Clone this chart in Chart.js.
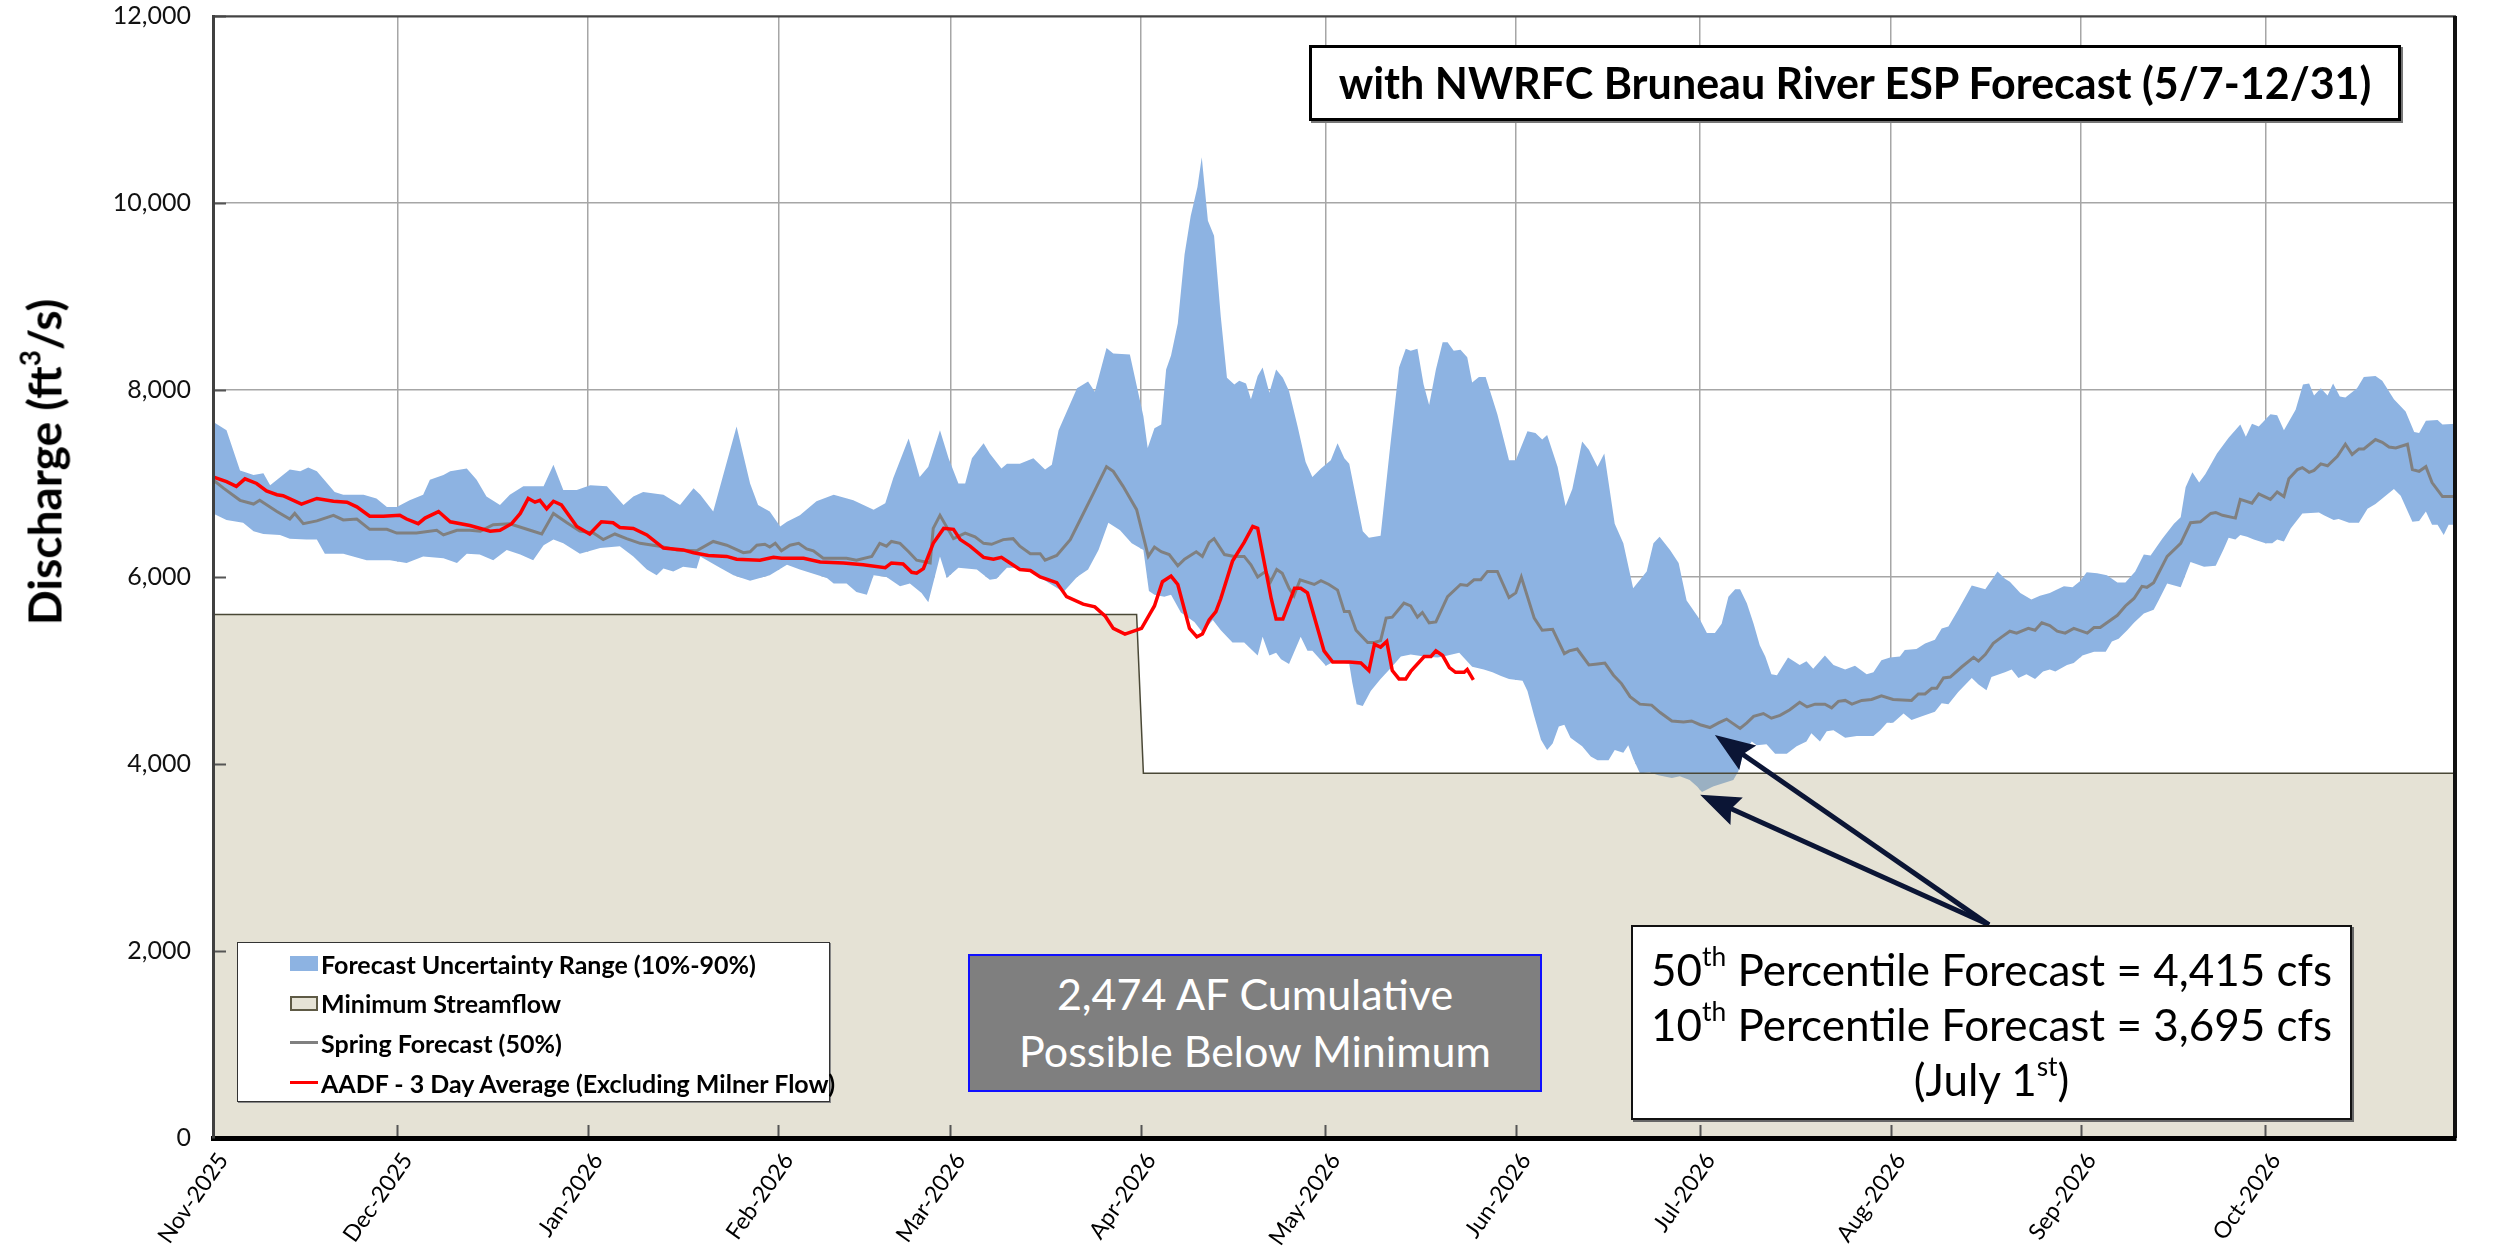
<!DOCTYPE html>
<html>
<head>
<meta charset="utf-8">
<title>Bruneau River ESP Forecast</title>
<script src="https://cdn.jsdelivr.net/npm/chart.js@4.4.0/dist/chart.umd.min.js"></script>
<style>
  html, body { margin: 0; padding: 0; background: #fff; }
  #wrap { position: relative; width: 2509px; height: 1254px; font-family: Lato, "Open Sans", sans-serif; color: #000; }
  #flowChart { position: absolute; left: 0; top: 0; }
  .box { position: absolute; box-sizing: border-box; }
  sup { font-size: 0.6em; line-height: 0; vertical-align: 0.75em; }

  #yTitle { position: absolute; left: 44px; top: 462px; transform: translate(-50%, -50%) rotate(-90deg);
            font-weight: bold; font-size: 46px; white-space: nowrap; }

  #titleBox { left: 1309px; top: 45px; width: 1092px; height: 76px; border: 3px solid #000; background: #fff;
              box-shadow: 2px 2px 0 #777; font-weight: bold; font-size: 43px; line-height: 70px; text-align: center; white-space: nowrap; }

  #deficitBox { left: 968px; top: 954px; width: 574px; height: 138px; border: 2px solid #1010ff; background: #7f7f7f;
                color: #fff; font-size: 43px; line-height: 57px; padding-top: 9px; text-align: center; white-space: nowrap; }

  #pctBox { left: 1631px; top: 925px; width: 721px; height: 195px; border: 2.5px solid #111; background: #fff;
            box-shadow: 2px 2px 0 #666; font-size: 44px; line-height: 55px; padding-top: 15px; text-align: center; white-space: nowrap; }

  #legendBox { left: 237px; top: 942px; width: 593px; height: 160px; border: 1.5px solid #333; background: #fff;
               box-shadow: 1px 1px 0 #888; padding-top: 1px; }
  .lg-row { height: 39.6px; display: flex; align-items: center; font-weight: bold; font-size: 25px; white-space: nowrap; }
  .lg-sym { flex: 0 0 auto; width: 28px; margin-left: 52px; margin-right: 3px; box-sizing: border-box; }
</style>
</head>
<body>
<div id="wrap">
  <canvas id="flowChart" width="2509" height="1254"></canvas>
  <div id="yTitle">Discharge (ft<sup>3</sup>/s)</div>
  <div id="titleBox" class="box">with NWRFC Bruneau River ESP Forecast (5/7-12/31)</div>
  <div id="deficitBox" class="box">2,474 AF Cumulative<br>Possible Below Minimum</div>
  <div id="pctBox" class="box">50<sup>th</sup> Percentile Forecast = 4,415 cfs<br>10<sup>th</sup> Percentile Forecast = 3,695 cfs<br>(July 1<sup>st</sup>)</div>
  <div id="legendBox" class="box"></div>
</div>

<script>
// x axis is "days since Nov 1 2025"
const monthDays = [0, 30, 61, 92, 120, 151, 181, 212, 242, 273, 304, 334];
const monthLabels = ['Nov-2025', 'Dec-2025', 'Jan-2026', 'Feb-2026', 'Mar-2026', 'Apr-2026',
                     'May-2026', 'Jun-2026', 'Jul-2026', 'Aug-2026', 'Sep-2026', 'Oct-2026'];

// [day, cfs] pairs
const upper90 = [[0,7660],[2.2,7570],[4.4,7140],[6.6,7090],[8.2,7110],[9.3,6980],[12.5,7150],[14.2,7130],[15.5,7170],[16.9,7130],[19.8,6910],[21.2,6880],[24.5,6880],[26.6,6840],[28.3,6750],[29.9,6750],[32,6820],[34.2,6880],[35.3,7040],[37.5,7090],[38.6,7130],[41.3,7160],[42.9,7040],[44.5,6860],[46.7,6770],[48.3,6880],[50.5,6970],[53.8,6970],[55.4,7200],[57,6930],[59.2,6930],[61.4,6980],[64.1,6970],[66.8,6770],[68.4,6860],[70,6910],[73.3,6880],[76,6770],[78.2,6950],[79.3,6880],[81.4,6700],[85.2,7610],[87.4,7000],[88.7,6770],[90.6,6700],[92.3,6540],[93.4,6590],[95.5,6660],[98.2,6810],[101,6880],[104.2,6820],[107.5,6720],[109.4,6790],[110.7,7060],[113.2,7480],[115,7070],[116.4,7180],[118.3,7570],[119.7,7270],[121.3,7000],[122.4,7000],[123.5,7270],[125.4,7430],[126.4,7320],[128.3,7160],[129.2,7210],[131.3,7210],[133.5,7270],[135.4,7150],[136.5,7200],[137.6,7570],[140.6,8020],[142.4,8090],[143.5,7980],[145.4,8450],[146.5,8390],[149.2,8380],[151.4,7720],[152.1,7380],[153.2,7590],[154.3,7630],[155.1,8220],[155.9,8370],[157,8710],[158.1,9450],[159.1,9860],[160.2,10170],[160.9,10490],[161.9,9810],[162.9,9650],[164,8780],[165,8130],[166.2,8060],[167,8100],[168.1,8070],[168.9,7900],[170,8150],[170.8,8240],[171.9,7970],[173,8220],[174.1,8130],[175.1,7990],[176.5,7610],[177.8,7230],[178.9,7070],[180.3,7160],[181.9,7250],[183,7430],[184.1,7270],[184.9,7210],[186,6850],[187.1,6490],[188.1,6420],[190,6440],[191.4,7300],[193,8240],[194.1,8440],[194.9,8420],[196,8440],[197,8060],[197.9,7840],[199,8220],[200.1,8510],[200.9,8510],[201.9,8420],[203,8430],[204.1,8350],[204.9,8080],[206,8140],[207.1,8140],[209,7740],[210.9,7250],[212,7250],[213.9,7560],[215.2,7540],[216.3,7470],[217.1,7520],[218.8,7180],[220.1,6760],[221.2,6940],[222.8,7450],[223.9,7360],[225.3,7180],[226.4,7320],[228.1,6570],[229.5,6360],[231.1,5880],[233.3,6060],[234.4,6360],[235.4,6430],[237.1,6290],[238.5,6150],[239.8,5750],[242,5540],[243.1,5400],[244.4,5400],[245.5,5500],[246.6,5790],[247.7,5870],[248.5,5870],[249.6,5720],[250.7,5500],[251.7,5270],[252.6,5150],[253.6,4960],[254.5,4950],[256.3,5140],[258.2,5060],[259.3,5100],[260.4,5020],[262.3,5160],[263.7,5060],[265.6,5010],[267.2,5050],[269.1,4960],[270.2,4980],[271.5,5110],[272.9,5140],[274.5,5150],[275.3,5220],[277.2,5230],[278.6,5290],[280.2,5330],[281.3,5450],[282.4,5470],[284,5650],[286.2,5910],[288.4,5870],[290.4,6060],[291.6,5980],[292.4,5950],[294.1,5830],[295.9,5760],[297.3,5800],[298.9,5830],[299.9,5860],[301.2,5900],[302.6,5890],[303.9,5960],[304.9,6050],[306.6,6040],[308.2,6020],[309.9,5940],[311.2,5940],[312.8,6060],[314.2,6240],[315.3,6230],[317.2,6410],[319.1,6570],[320.2,6640],[321,6960],[322.1,7120],[323.2,7010],[324.2,7100],[326.1,7320],[328,7490],[329.9,7630],[330.8,7500],[331.8,7640],[332.9,7610],[334.8,7740],[335.9,7730],[337,7570],[338.9,7790],[340.1,8060],[341.1,8070],[341.9,7940],[343,8020],[344.1,7940],[345,8070],[346.1,7930],[347,7920],[348.9,8020],[350,8140],[351.9,8150],[353,8100],[354.9,7900],[356.8,7770],[358.2,7550],[359,7540],[360.1,7670],[362,7680],[362.8,7630],[365,7640]];

const lower10 = [[0,6680],[2.2,6610],[4.9,6580],[6.6,6490],[8.2,6460],[10.9,6450],[12.5,6410],[15.2,6400],[16.9,6400],[18.2,6250],[21.2,6250],[25,6180],[28.8,6180],[31.5,6150],[34.2,6220],[37.5,6200],[39.7,6150],[41.3,6250],[43.4,6240],[45.6,6180],[47.8,6290],[50,6240],[52.1,6180],[53.8,6340],[55.4,6400],[57,6360],[59.7,6250],[63,6310],[66.2,6330],[68.4,6220],[70.6,6080],[72.2,6020],[73.3,6090],[74.9,6060],[76.5,6110],[78.7,6090],[79.3,6220],[82.5,6100],[84.7,6020],[87.4,5960],[90.6,6020],[93.4,6130],[95.5,6080],[99.9,5990],[101,5930],[103.1,5930],[104.7,5840],[106.4,5810],[107.5,6020],[109.6,6000],[111.8,5900],[113.4,5930],[115.3,5830],[116.4,5730],[118.3,6220],[119.4,5990],[121.3,6100],[124.3,6080],[126.4,5970],[127.5,5980],[129.2,6100],[131.3,6100],[133.5,6050],[135.7,5950],[138.4,5840],[140.6,6000],[142.4,6080],[144.1,6290],[145.7,6580],[147.6,6500],[149.5,6360],[151.4,6290],[152.3,5850],[153.2,5810],[154.8,5790],[155.9,5810],[157.5,5620],[159.7,5520],[161,5410],[162.7,5540],[164,5430],[165.9,5300],[167.8,5300],[170,5160],[170.8,5360],[171.9,5160],[173,5190],[173.8,5120],[175.1,5070],[177,5360],[178.1,5210],[178.9,5210],[181.1,5050],[182.5,5100],[184.9,5070],[185.4,4870],[186.1,4640],[187.1,4620],[188.4,4780],[190,4910],[191.7,5030],[193.3,5150],[194.9,5170],[197.1,5150],[199.3,5140],[200.9,5160],[202.8,5190],[204.9,5040],[206.8,5010],[208.2,4980],[209.6,4940],[210.9,4910],[213.1,4890],[213.9,4780],[215,4510],[216.1,4260],[217.1,4150],[218,4220],[219,4400],[219.9,4420],[220.9,4280],[222.8,4190],[224.2,4080],[225.3,4040],[227.1,4040],[228.1,4150],[229.5,4120],[230.3,4200],[231.1,4060],[232.2,3900],[233.8,3910],[235.2,3880],[237.4,3850],[238.7,3870],[240.3,3830],[241.5,3760],[242.3,3700],[244.1,3760],[246,3800],[247.4,3830],[248.2,3920],[249,4100],[250.4,4240],[251.2,4200],[252.8,4210],[254.2,4110],[256.1,4110],[257.7,4190],[259.3,4240],[260.1,4330],[261.5,4240],[262.6,4350],[263.7,4360],[265.6,4280],[267.5,4300],[270.2,4300],[271.3,4360],[272.4,4440],[273.4,4440],[275.1,4540],[276.4,4470],[278.1,4510],[280.2,4560],[281.3,4650],[282.4,4640],[284,4770],[286.2,4920],[287.3,4850],[288.6,4790],[289.4,4930],[291.6,4980],[292.7,5010],[293.8,4920],[295.1,4960],[296.5,4910],[297.8,4990],[298.9,5010],[299.8,4990],[301.7,5060],[302.8,5080],[304.2,5160],[306.1,5200],[308,5200],[309,5310],[310.1,5340],[311.5,5430],[312.6,5510],[314.2,5610],[315.8,5650],[316.6,5750],[318,5930],[320.2,5890],[321.8,6160],[324,6110],[325.9,6120],[327.2,6300],[328,6420],[329.1,6400],[329.9,6450],[331,6430],[332.1,6400],[334,6360],[335.1,6360],[335.9,6400],[337,6380],[338.1,6520],[340,6680],[342.7,6690],[343.5,6660],[345.1,6610],[345.9,6620],[347.6,6580],[349.2,6580],[350.6,6730],[351.9,6780],[353,6840],[354.9,6940],[356,6870],[357.9,6590],[359,6600],[360.1,6700],[361.1,6560],[362,6560],[363,6450],[363.8,6560],[365,6560]];

const spring50 = [[0,7040],[1.7,6950],[4.4,6820],[6.6,6780],[7.6,6820],[10.4,6700],[12.5,6620],[13.3,6680],[14.7,6570],[16.9,6600],[19.6,6660],[21.2,6610],[23.4,6620],[25.5,6510],[28.3,6510],[29.9,6470],[33.1,6470],[36.4,6500],[37.5,6450],[39.7,6500],[41.8,6500],[43.5,6490],[45.6,6560],[48.3,6570],[51.6,6500],[53.5,6460],[55.4,6680],[57.6,6580],[59.7,6490],[61.9,6470],[63.5,6400],[65.4,6460],[67.3,6410],[69.5,6360],[72.7,6330],[75.5,6290],[78.7,6280],[81.4,6380],[83.6,6340],[86.3,6260],[87.4,6270],[88.5,6340],[89.8,6350],[90.6,6320],[91.5,6360],[92.5,6280],[93.9,6340],[95.3,6360],[96.6,6300],[97.7,6280],[99.3,6200],[103.1,6200],[104.7,6180],[107.2,6220],[108.5,6360],[109.6,6330],[110.4,6380],[111.8,6360],[113.2,6270],[114.5,6180],[116.7,6150],[117.2,6520],[118.3,6660],[120.5,6410],[122.4,6470],[124,6430],[125.4,6360],[126.7,6350],[128.6,6400],[130.2,6410],[131.3,6330],[133,6250],[134.6,6250],[135.4,6180],[137.3,6230],[139.5,6400],[141.1,6610],[143.3,6900],[145.4,7180],[146.5,7130],[148.1,6970],[150.3,6720],[152.2,6220],[153.2,6320],[154.3,6270],[155.6,6240],[157,6120],[158.1,6190],[160,6270],[161,6220],[162.1,6370],[162.9,6410],[164.6,6240],[166.2,6220],[167.8,6220],[168.9,6130],[170,6000],[171.3,6060],[172.1,5950],[173.1,6080],[174,6040],[175.1,5880],[175.9,5800],[176.9,5970],[179.2,5920],[180.3,5960],[181.6,5920],[183,5860],[184.1,5630],[184.9,5630],[186,5430],[187.9,5300],[189,5300],[190,5320],[190.9,5560],[191.9,5570],[193.8,5720],[194.9,5690],[196,5570],[196.8,5620],[197.9,5510],[199,5520],[200.9,5790],[203,5920],[204.1,5910],[205.2,5970],[206.3,5970],[207.4,6060],[209,6060],[210.9,5780],[212,5830],[212.9,6000],[215,5560],[216.3,5430],[218,5440],[219.9,5180],[220.7,5210],[222,5230],[223.9,5060],[225.3,5070],[226.5,5080],[227.9,4950],[229.2,4860],[230.6,4720],[232.2,4640],[234.1,4630],[235.5,4550],[237.4,4460],[239.3,4450],[240.6,4460],[242,4420],[243.6,4390],[245,4440],[246.3,4480],[248.5,4380],[249.6,4440],[250.7,4510],[252.3,4540],[253.6,4490],[255,4520],[256.6,4580],[258.2,4660],[259.4,4610],[260.7,4640],[262.3,4640],[263.4,4600],[264.5,4670],[265.6,4680],[266.7,4640],[268.3,4680],[269.9,4690],[271.5,4730],[273.4,4690],[276.4,4680],[277.5,4750],[278.6,4750],[279.7,4810],[280.5,4810],[281.6,4920],[282.7,4930],[284.6,5040],[286.5,5140],[287.3,5100],[288.4,5170],[289.7,5290],[291.1,5360],[292.4,5420],[293.5,5400],[295.4,5450],[296.5,5430],[297.6,5510],[298.9,5480],[300.1,5420],[301.4,5400],[302.8,5450],[305,5400],[306.1,5460],[307.1,5460],[309.9,5590],[311.2,5690],[312.6,5770],[313.9,5900],[314.7,5890],[315.8,5940],[318,6220],[320.2,6360],[321.8,6580],[323.4,6590],[325.1,6680],[325.9,6690],[327,6660],[329.1,6630],[329.9,6830],[331.8,6790],[332.9,6890],[334.8,6830],[335.9,6910],[337,6860],[337.8,7050],[339.2,7150],[340,7170],[341.1,7120],[341.9,7140],[343,7210],[344.1,7190],[345.7,7290],[347,7420],[348.1,7310],[349.2,7370],[350,7370],[351.9,7470],[353,7440],[354.1,7390],[355.2,7380],[357.1,7420],[357.9,7150],[359,7130],[360.1,7180],[361.1,7010],[362.8,6860],[365,6860]];

const aadf3day = [[0,7070],[2.2,7020],[3.8,6970],[5.2,7050],[7.1,7000],[8.7,6920],[10.4,6880],[11.4,6870],[14.4,6780],[16.9,6840],[19.6,6810],[21.8,6800],[23.4,6750],[25.5,6650],[27.7,6650],[30.4,6660],[31.5,6620],[33.4,6570],[34.5,6630],[36.7,6700],[38.6,6590],[41.8,6550],[45.1,6490],[46.7,6500],[48.6,6570],[50,6680],[51.3,6840],[52.4,6800],[53.2,6820],[54.3,6730],[55.4,6810],[56.7,6770],[59.2,6540],[61.3,6460],[63.2,6590],[65.1,6580],[66.2,6530],[68.4,6520],[70.6,6450],[73.3,6310],[76.5,6290],[78.2,6260],[80.6,6230],[83.6,6220],[85.2,6190],[89,6180],[91.2,6210],[92.5,6200],[96.1,6200],[98.8,6160],[102.6,6150],[105.8,6130],[109.4,6100],[110.4,6150],[112.3,6140],[113.7,6050],[114.5,6040],[115.6,6090],[117.2,6360],[118.9,6520],[120.5,6510],[121.6,6400],[123.2,6330],[125.4,6210],[127,6190],[128.3,6210],[129.7,6150],[131.3,6080],[133,6070],[134.6,6000],[137.3,5940],[138.9,5790],[141.6,5710],[143.5,5680],[145.2,5580],[146.5,5450],[148.4,5390],[151.1,5450],[152.5,5610],[153.2,5690],[154.5,5950],[155.9,6010],[157,5920],[158.9,5450],[160.1,5360],[161,5390],[162.1,5540],[163.2,5630],[164,5770],[165.9,6170],[167.8,6370],[169.2,6540],[170,6520],[172.2,5770],[173,5550],[174.1,5550],[176,5880],[177,5880],[178.1,5830],[180.8,5210],[182.2,5090],[184.9,5090],[186.8,5080],[188.1,5000],[189,5280],[190,5250],[191,5310],[191.9,5000],[193,4910],[194.1,4910],[194.9,4990],[197.1,5150],[198.2,5150],[199,5210],[200.1,5160],[201.2,5030],[202.2,4980],[203.6,4980],[204.1,5010],[205.1,4900]];

const minFlow = [[0,5600],[150.3,5600],[151.4,3900],[365,3900]];

// annotation arrows (data units): shared tail near the callout box, tips at Jul 1
const arrowTail = [289, 2280];
const arrowTips = [[244.4, 4310], [242, 3670]];

const pts = (pairs) => pairs.map(([x, y]) => ({ x, y }));

// tick marks inside the plot, right/top frame, and the callout arrows
const framePlugin = {
  id: 'frameAndArrows',
  afterDatasetsDraw(chart) {
    const { ctx, chartArea: a, scales: { x, y } } = chart;
    ctx.save();
    ctx.strokeStyle = '#555';
    ctx.lineWidth = 2;
    ctx.beginPath();
    x.ticks.forEach(t => {
      const px = Math.round(x.getPixelForValue(t.value)) + 0.5;
      ctx.moveTo(px, a.bottom);
      ctx.lineTo(px, a.bottom - 13);
    });
    y.ticks.forEach(t => {
      const py = Math.round(y.getPixelForValue(t.value)) + 0.5;
      ctx.moveTo(a.left, py);
      ctx.lineTo(a.left + 13, py);
    });
    ctx.stroke();

    ctx.strokeStyle = '#444';
    ctx.lineWidth = 2;
    ctx.beginPath();
    ctx.moveTo(a.left, a.top + 0.5);
    ctx.lineTo(a.right, a.top + 0.5);
    ctx.stroke();
    ctx.strokeStyle = '#111';
    ctx.lineWidth = 4;
    ctx.beginPath();
    ctx.moveTo(a.right - 1, a.top);
    ctx.lineTo(a.right - 1, a.bottom);
    ctx.stroke();

    // arrows
    const tx = x.getPixelForValue(arrowTail[0]);
    const ty = y.getPixelForValue(arrowTail[1]);
    ctx.strokeStyle = '#0b1535';
    ctx.fillStyle = '#0b1535';
    ctx.lineWidth = 5;
    arrowTips.forEach(([d, v]) => {
      const hx = x.getPixelForValue(d);
      const hy = y.getPixelForValue(v);
      const ang = Math.atan2(hy - ty, hx - tx);
      const len = 34, half = 15;
      const bx = hx - len * Math.cos(ang), by = hy - len * Math.sin(ang);
      ctx.beginPath();
      ctx.moveTo(tx, ty);
      ctx.lineTo(bx + 6 * Math.cos(ang), by + 6 * Math.sin(ang));
      ctx.stroke();
      ctx.beginPath();
      ctx.moveTo(hx, hy);
      ctx.lineTo(bx - half * Math.sin(ang) - 6 * Math.cos(ang), by + half * Math.cos(ang) - 6 * Math.sin(ang));
      ctx.lineTo(bx, by);
      ctx.lineTo(bx + half * Math.sin(ang) - 6 * Math.cos(ang), by - half * Math.cos(ang) - 6 * Math.sin(ang));
      ctx.closePath();
      ctx.fill();
    });
    ctx.restore();
  }
};

function buildLegend(chart) {
  const box = document.getElementById('legendBox');
  chart.data.datasets.filter(ds => ds.legendKind).forEach(ds => {
    const row = document.createElement('div');
    row.className = 'lg-row';
    const sym = document.createElement('span');
    sym.className = 'lg-sym';
    if (ds.legendKind === 'box') {
      sym.style.height = '15px';
      sym.style.background = ds.legendFill;
      if (ds.legendEdge) sym.style.border = '2px solid ' + ds.legendEdge;
    } else {
      sym.style.height = '3px';
      sym.style.background = ds.borderColor;
    }
    const txt = document.createElement('span');
    txt.textContent = ds.label;
    row.appendChild(sym);
    row.appendChild(txt);
    box.appendChild(row);
  });
}

function draw() {
  const chart = new Chart(document.getElementById('flowChart'), {
    type: 'line',
    data: {
      datasets: [
        {
          label: 'lower',
          data: pts(lower10),
          borderWidth: 0,
          backgroundColor: '#ffffff',
          fill: 'origin',
          order: 5
        },
        {
          label: 'Forecast Uncertainty Range (10%-90%)',
          data: pts(upper90),
          borderWidth: 0,
          backgroundColor: '#8db3e2',
          fill: '-1',
          order: 4,
          legendKind: 'box',
          legendFill: '#8db3e2'
        },
        {
          label: 'Minimum Streamflow',
          data: pts(minFlow),
          borderColor: '#4a4836',
          borderWidth: 1.5,
          backgroundColor: 'rgba(181, 172, 135, 0.35)',
          fill: 'origin',
          order: 3,
          legendKind: 'box',
          legendFill: '#e6e3d6',
          legendEdge: '#5e5a45'
        },
        {
          label: 'Spring Forecast (50%)',
          data: pts(spring50),
          borderColor: '#808080',
          borderWidth: 3,
          fill: false,
          order: 2,
          legendKind: 'line'
        },
        {
          label: 'AADF - 3 Day Average (Excluding Milner Flow)',
          data: pts(aadf3day),
          borderColor: '#ff0000',
          borderWidth: 3.5,
          fill: false,
          order: 1,
          legendKind: 'line'
        }
      ]
    },
    options: {
      responsive: false,
      animation: false,
      events: [],
      layout: { padding: { top: 16, right: 53, left: 0, bottom: 0 } },
      elements: { point: { radius: 0 }, line: { tension: 0 } },
      plugins: { legend: { display: false }, tooltip: { enabled: false } },
      scales: {
        x: {
          type: 'linear',
          min: 0,
          max: 365,
          afterBuildTicks: (axis) => { axis.ticks = monthDays.map(value => ({ value })); },
          afterFit: (axis) => { axis.height = 116; axis.paddingLeft = 0; axis.paddingRight = 0; },
          grid: { color: '#a6a6a6', lineWidth: 1.5, drawTicks: false },
          border: { color: '#000', width: 5, z: 1 },
          ticks: {
            autoSkip: false,
            minRotation: 55,
            maxRotation: 55,
            padding: 10,
            labelOffset: 10,
            color: '#000',
            font: { family: 'Lato', size: 23 },
            callback: (value, index) => monthLabels[index]
          }
        },
        y: {
          min: 0,
          max: 12000,
          afterFit: (axis) => { axis.width = 213; axis.paddingTop = 0; axis.paddingBottom = 0; },
          grid: { color: '#a6a6a6', lineWidth: 1.5, drawTicks: false },
          border: { color: '#404040', width: 3, z: 1 },
          ticks: {
            stepSize: 2000,
            padding: 22,
            color: '#111',
            font: { family: 'Lato', size: 25 },
            callback: (v) => v.toLocaleString('en-US')
          }
        }
      }
    },
    plugins: [framePlugin]
  });
  buildLegend(chart);
}

Promise.all([document.fonts.load('24px Lato'), document.fonts.load('bold 24px Lato')])
  .then(draw, draw);
</script>
</body>
</html>
